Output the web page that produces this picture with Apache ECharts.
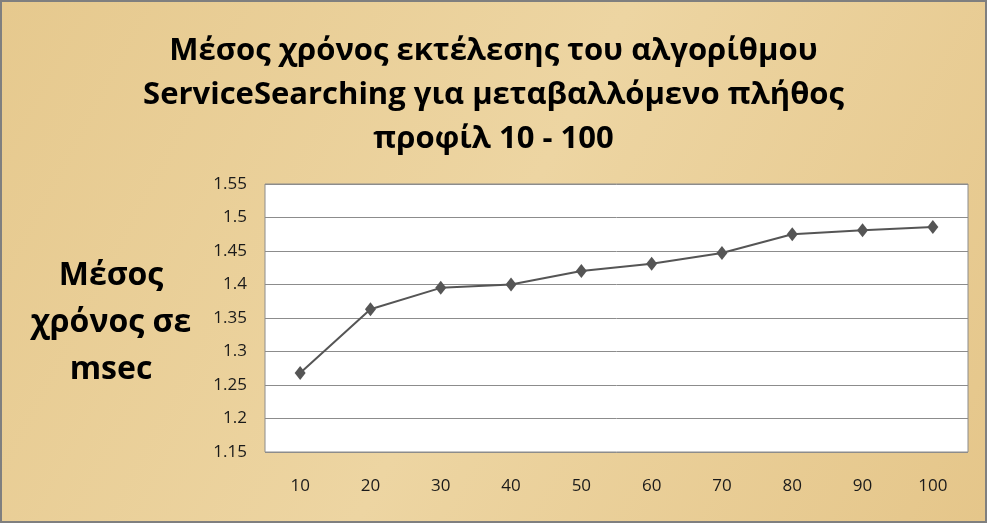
<!DOCTYPE html>
<html>
<head>
<meta charset="utf-8">
<script src="https://cdn.jsdelivr.net/npm/echarts@6/dist/echarts.min.js"></script>
<style>
html,body{margin:0;padding:0;}
#c{width:987px;height:523px;box-sizing:border-box;border:2px solid #7f7f7f;}
</style>
</head>
<body>
<div id="c"></div>
<script>
const categories = ['10','20','30','40','50','60','70','80','90','100'];
const meanTime = [1.268, 1.363, 1.395, 1.400, 1.420, 1.431, 1.447, 1.475, 1.481, 1.486];
const titleLines = ['Μέσος χρόνος εκτέλεσης του αλγορίθμου', 'ServiceSearching για μεταβαλλόμενο πλήθος', 'προφίλ 10 - 100'];
const yTitleLines = ['Μέσος', 'χρόνος σε', 'msec'];

const chart = echarts.init(document.getElementById('c'), null, {renderer: 'canvas'});
const font = '"Open Sans", "Noto Sans", sans-serif';
chart.setOption({
  animation: false,
  backgroundColor: {
    type: 'linear', x: 0, y: 0, x2: 1, y2: 1,
    colorStops: [
      {offset: 0, color: '#E6C98E'},
      {offset: 0.5, color: '#EDD5A2'},
      {offset: 1, color: '#E5C68A'}
    ]
  },
  title: {
    text: titleLines.join('\n'),
    left: 'center', top: 22,
    textStyle: {fontFamily: font, fontWeight: 'bold', fontSize: 31, lineHeight: 44, color: '#000'}
  },
  graphic: [{
    type: 'text', x: 109, y: 321,
    style: {
      text: yTitleLines.join('\n'), fontFamily: font, fontSize: 32, fontWeight: 'bold',
      lineHeight: 47, textAlign: 'center', textVerticalAlign: 'middle', fill: '#000'
    }
  }],
  grid: {
    left: 263, right: 17, top: 182, bottom: 69,
    show: true, backgroundColor: '#fff', borderColor: '#8c8c8c', borderWidth: 1
  },
  xAxis: {
    type: 'category', data: categories, boundaryGap: true,
    axisLine: {show: false}, axisTick: {show: false},
    axisLabel: {fontFamily: font, fontSize: 17, color: '#1a1a1a', margin: 26}
  },
  yAxis: {
    type: 'value', min: 1.15, max: 1.55, interval: 0.05,
    axisLine: {show: false}, axisTick: {show: false},
    axisLabel: {fontFamily: font, fontSize: 17, color: '#1a1a1a', margin: 18,
      formatter: v => String(+v.toFixed(2))},
    splitLine: {lineStyle: {color: '#8c8c8c', width: 1}}
  },
  series: [{
    type: 'line', data: meanTime,
    symbol: 'diamond', symbolSize: [11, 14],
    lineStyle: {color: '#555555', width: 2},
    itemStyle: {color: '#555555'}
  }]
});
</script>
</body>
</html>
